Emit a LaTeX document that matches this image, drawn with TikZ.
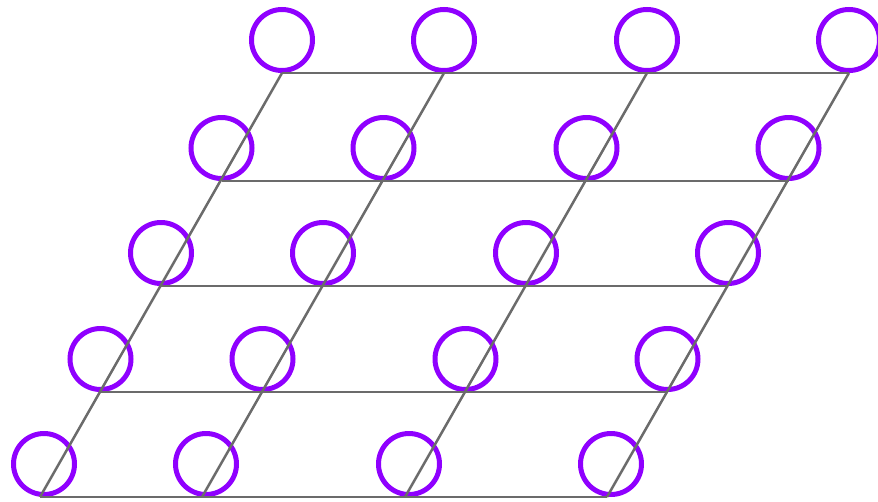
\documentclass[tikz,border=0pt]{standalone}
\usepackage{tikz}
\begin{document}
\begin{tikzpicture}[x=1pt,y=1pt,yscale=-1,xscale=1]

\definecolor{myviolet}{rgb}{0.56, 0.0, 1.0}
\definecolor{mygray}{rgb}{0.42, 0.42, 0.42}

\tikzset{site/.style={circle, draw=myviolet, line width=5pt, minimum size=61pt, inner sep=0pt, anchor=south}}

\useasboundingbox (0,0) rectangle (878,501);

% lattice points, row r, column c
\foreach \c/\x in {0/282, 1/444, 2/647, 3/849} {
  \foreach \r/\y/\d in {0/73/0, 1/181/0, 2/286/0, 3/392/0, 4/497/4} {
    \coordinate (p\r\c) at ({\x-60.5*\r}, \y);
    \node[site] (s\r\c) at ({\x-60.5*\r+\d}, \y) {};
  }
}

\foreach \r in {0,...,4} {
  \draw[mygray, line width=2.5pt] (p\r0) -- (p\r3);
}
\foreach \c in {0,...,3} {
  \draw[mygray, line width=2.5pt] (p0\c) -- (p4\c);
}

\end{tikzpicture}
\end{document}
